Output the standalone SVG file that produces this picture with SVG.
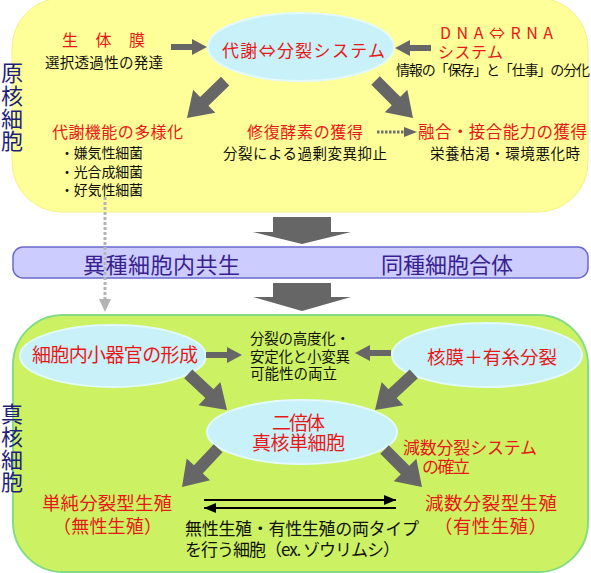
<svg xmlns="http://www.w3.org/2000/svg" xmlns:xlink="http://www.w3.org/1999/xlink" width="591" height="573" viewBox="0 0 591 573">
<style>
text{font-family:"Noto Sans CJK JP","Noto Sans CJK SC",sans-serif}
.r{fill:#e81818}
.k{fill:#111}
.v{fill:#1f1f7a;font-size:22px}
.b{fill:#3a1f8f;font-size:22px}
.ell{fill:#c9f1f9;stroke:#e2f9fd;stroke-width:2}
.ga{fill:#666}
</style>
<defs>
<path id="big" d="M0,0 L-24,-16 L-24,-6 L-53,-6 L-53,6 L-24,6 L-24,16 Z"/>
<path id="sm" d="M0,0 L-15,-8 L-15,-3 L-36,-3 L-36,3 L-15,3 L-15,8 Z"/>
<marker id="ah" viewBox="0 0 12 10" refX="12" refY="5" markerWidth="12" markerHeight="10" markerUnits="userSpaceOnUse" orient="auto"><path d="M0,0 L12,5 L0,10 Z" fill="#000"/></marker>
</defs>

<g id="prokaryote-box">
<rect x="12" y="-2" width="576" height="214" rx="50" fill="#ffff99" stroke="#f2f28a" stroke-width="1"/>
<text class="v" x="12" y="62" writing-mode="tb" letter-spacing="0.7">原核細胞</text>
</g>

<g id="band">
<rect x="13" y="247" width="575" height="31" rx="10" fill="#ccccff" stroke="#6a6acc" stroke-width="1.5"/>
<text class="b" x="83" y="273" textLength="157">異種細胞内共生</text>
<text class="b" x="381" y="273" textLength="132">同種細胞合体</text>
</g>

<g id="eukaryote-box">
<rect x="13" y="315" width="575" height="257" rx="50" fill="#ccf263" stroke="#84dc84" stroke-width="2"/>
<text class="v" x="12" y="403" writing-mode="tb" letter-spacing="0.7">真核細胞</text>
</g>

<g id="membrane">
<text class="r" x="62" y="46" font-size="16" textLength="83">生体膜</text>
<text class="k" x="45" y="67.5" font-size="14.5" textLength="118">選択透過性の発達</text>
</g>

<g id="metabolism-division">
<ellipse class="ell" cx="301" cy="47" rx="93" ry="34"/>
<text class="r" x="222" y="56.5" font-size="17" textLength="163">代謝⇔分裂システム</text>
</g>

<g id="dna-rna">
<text class="r" x="440" y="39" font-size="16" textLength="113">DNA⇔RNA</text>
<text class="r" x="438" y="58" font-size="16" textLength="65">システム</text>
<text class="k" x="396" y="75" font-size="14" textLength="194">情報の「保存」と「仕事」の分化</text>
</g>

<g id="diversification">
<text class="r" x="52" y="138" font-size="16" textLength="131">代謝機能の多様化</text>
<text class="k" x="60" y="158" font-size="14" textLength="83">・嫌気性細菌</text>
<text class="k" x="60" y="177" font-size="14" textLength="83">・光合成細菌</text>
<text class="k" x="60" y="195" font-size="14" textLength="83">・好気性細菌</text>
</g>

<g id="repair">
<text class="r" x="247" y="138" font-size="16" textLength="116">修復酵素の獲得</text>
<text class="k" x="223" y="158.5" font-size="14.5" textLength="164">分裂による過剰変異抑止</text>
</g>

<g id="fusion">
<text class="r" x="418" y="138" font-size="16.5" textLength="169">融合・接合能力の獲得</text>
<text class="k" x="430" y="158.5" font-size="14.5" textLength="150">栄養枯渇・環境悪化時</text>
</g>

<g id="organelle">
<ellipse class="ell" cx="113" cy="356" rx="93" ry="31"/>
<text class="r" x="32" y="362" font-size="19" textLength="166">細胞内小器官の形成</text>
</g>

<g id="nuclear-membrane">
<ellipse class="ell" cx="487" cy="355" rx="95" ry="32"/>
<text class="r" x="427" y="364" font-size="18.5" textLength="130">核膜＋有糸分裂</text>
</g>

<g id="division-stability">
<text class="k" x="250" y="343.5" font-size="14.5" textLength="100">分裂の高度化・</text>
<text class="k" x="250" y="361.5" font-size="14.5" textLength="100">安定化と小変異</text>
<text class="k" x="250" y="379" font-size="14.5" textLength="87">可能性の両立</text>
</g>

<g id="diploid">
<ellipse class="ell" cx="302" cy="432" rx="95" ry="32"/>
<text class="r" x="272" y="430" font-size="19" textLength="53">二倍体</text>
<text class="r" x="252" y="450" font-size="19" textLength="93">真核単細胞</text>
</g>

<g id="meiosis-system">
<text class="r" x="403" y="453.5" font-size="17" textLength="134">減数分裂システム</text>
<text class="r" x="422" y="472.5" font-size="17" textLength="48">の確立</text>
</g>

<g id="asexual">
<text class="r" x="42" y="510" font-size="18.5" textLength="130">単純分裂型生殖</text>
<text class="r" x="53" y="533" font-size="18" textLength="109">（無性生殖）</text>
</g>

<g id="sexual">
<text class="r" x="425" y="510" font-size="18.5" textLength="132">減数分裂型生殖</text>
<text class="r" x="434" y="533" font-size="18.5" textLength="113">（有性生殖）</text>
</g>

<g id="both-types">
<text class="k" x="185" y="535" font-size="17" textLength="234">無性生殖・有性生殖の両タイプ</text>
<text class="k" x="185" y="556" font-size="17" textLength="215">を行う細胞（ex. ゾウリムシ）</text>
</g>

<g id="connectors">
<use xlink:href="#sm" class="ga" transform="translate(207,47)"/>
<use xlink:href="#sm" class="ga" transform="translate(395,48) rotate(180)"/>
<use xlink:href="#big" class="ga" transform="translate(187,118) rotate(136)"/>
<use xlink:href="#big" class="ga" transform="translate(413,118) rotate(45)"/>
<line x1="377" y1="132" x2="405" y2="132" stroke="#707070" stroke-width="3" stroke-dasharray="2.5,1.5"/>
<path d="M417,132 L404,127 L404,137 Z" fill="#666"/>
<line x1="105" y1="197" x2="105" y2="300" stroke="#b4b4b4" stroke-width="3" stroke-dasharray="3,2"/>
<path d="M105,312 L99,299 L111,299 Z" fill="#b4b4b4"/>
<path d="M273,217 L331,217 L331,232 L351,232 L302,244 L253,232 L273,232 Z" class="ga"/>
<path d="M273,283 L331,283 L331,297 L351,297 L302,311 L253,297 L273,297 Z" class="ga"/>
<use xlink:href="#sm" class="ga" transform="translate(242,355)"/>
<use xlink:href="#sm" class="ga" transform="translate(355,353) rotate(180)"/>
<use xlink:href="#big" class="ga" transform="translate(227,410) rotate(43)"/>
<use xlink:href="#big" class="ga" transform="translate(375,410) rotate(137)"/>
<use xlink:href="#big" class="ga" transform="translate(182,487) rotate(133)"/>
<use xlink:href="#big" class="ga" transform="translate(422,487) rotate(45)"/>
<line x1="204" y1="500" x2="396" y2="500" stroke="#000" stroke-width="2" marker-end="url(#ah)"/>
<line x1="396" y1="508" x2="204" y2="508" stroke="#000" stroke-width="2" marker-end="url(#ah)"/>
</g>
</svg>
